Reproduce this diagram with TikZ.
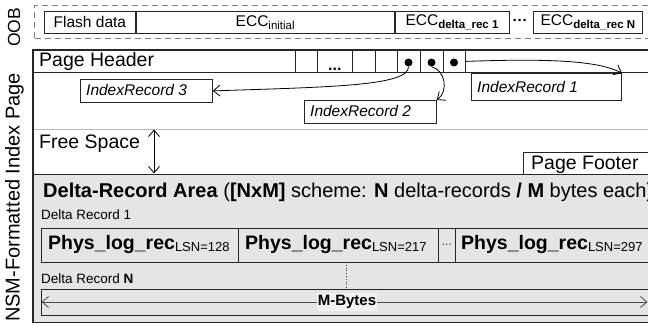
\documentclass[tikz,border=0pt]{standalone}
\usepackage{fontspec}
\setmainfont{Liberation Sans}
\usetikzlibrary{arrows.meta}
\newcommand\fz[1]{\fontsize{#1}{#1}\selectfont}
\newcommand\lowsub[2][-2.5pt]{\raisebox{#1}{#2}}
\begin{document}
\begin{tikzpicture}[x=1pt,y=-1pt,
  boxline/.style={draw=black!85, line width=0.8pt},
  cell/.style={boxline, fill=white, inner sep=0pt, anchor=north west},
  gcell/.style={boxline, fill=gray!20, inner sep=0pt, anchor=north west},
  tip/.style={-{Straight Barb[length=6.5pt,width=11pt]}, line width=0.8pt},
  dbl/.style={{Straight Barb[length=6.5pt,width=11pt]}-{Straight Barb[length=6.5pt,width=11pt]}, line width=0.8pt},
  lbl/.style={inner sep=0pt, anchor=base west},
  blackdot/.style={circle, fill=black, inner sep=0pt, minimum size=8pt},
]
\path[use as bounding box] (0,0) rectangle (648,326);
\clip (0,0) rectangle (648,326);

% side labels
\node[rotate=90, font=\fz{17.5}, inner sep=0pt] (oob) at (14,27.5) {OOB};
\node[rotate=90, font=\fz{20}, inner sep=0pt] (nsm) at (14.5,197.5) {NSM-Formatted Index Page};

% OOB area
\node[draw=gray, dash pattern=on 6pt off 4pt, line width=1pt, anchor=north west,
      minimum width=640pt, minimum height=33pt, inner sep=0pt] (oobbox) at (34,5) {};
\node[cell, minimum width=91pt, minimum height=22pt, font=\fz{15.5}] (flash) at (44,11) {Flash data};
\node[cell, minimum width=258pt, minimum height=22pt, font=\fz{15.5}] (eccinit) at (flash.north east) {ECC\lowsub{\fz{11.5}initial}};
\node[cell, minimum width=114pt, minimum height=22pt, font=\fz{15.5}] (ecc1) at (eccinit.north east) {ECC\lowsub{\fz{11.5}\bfseries delta\_rec 1}};
\node[font=\fz{15}\bfseries, inner sep=0pt] (oobdots) at (520,22) {···};
\node[cell, minimum width=109pt, minimum height=22pt, font=\fz{15.5}] (eccN) at (533,11) {ECC\lowsub{\fz{11.5}\bfseries delta\_rec N}};

% page background
\node[fill=white, anchor=north west, minimum width=657pt, minimum height=272pt, inner sep=0pt] (page) at (33,50) {};

% header row
\node[cell, minimum width=657pt, minimum height=22pt] (header) at (33,50) {};
\node[lbl, font=\fz{19.5}] (htext) at (39,67) {Page Header};
\node[cell, minimum width=22pt, minimum height=22pt] (hc1) at (295,50) {};
\node[cell, minimum width=35pt, minimum height=22pt, text height=19pt, text depth=1pt, font=\fz{16}\bfseries] (hc2) at (317,50) {...};
\node[cell, minimum width=23pt, minimum height=22pt] (hc3) at (352,50) {};
\node[cell, minimum width=22pt, minimum height=22pt] (hc4) at (375,50) {};
\node[cell, minimum width=23pt, minimum height=22pt] (hc5) at (397,50) {};
\node[cell, minimum width=23pt, minimum height=22pt] (hc6) at (420,50) {};
\node[cell, minimum width=22pt, minimum height=22pt] (hc7) at (443,50) {};
\node[blackdot] (d1) at (408.5,62.5) {};
\node[blackdot] (d2) at (431.5,62.5) {};
\node[blackdot] (d3) at (454,62.5) {};

% index records
\node[cell, minimum width=132pt, minimum height=23pt] (ir3) at (80,79) {};
\node[lbl, font=\fz{15.5}\itshape] (ir3t) at (86,96) {IndexRecord 3};
\node[cell, minimum width=132pt, minimum height=23pt] (ir2) at (304,100) {};
\node[lbl, font=\fz{15.5}\itshape] (ir2t) at (310,117) {IndexRecord 2};
\node[cell, minimum width=150pt, minimum height=27pt] (ir1) at (471,73) {};
\node[lbl, font=\fz{15.5}\itshape] (ir1t) at (477,93) {IndexRecord 1};

\draw[tip] (d1.south) .. controls (409,86) and (330,87) .. (ir3.east);
\draw[tip] (d2.south) .. controls (445,70) and (449,91) .. (ir2.north east);
\draw[tip] (hc7.east) .. controls (560,58) and (600,62) .. (ir1.north east);

% free space
\coordinate (sepL) at (33,129);
\coordinate (sepR) at (690,129);
\draw[gray!55, line width=0.8pt] (sepL) -- (sepR);
\node[lbl, font=\fz{19.5}] (fstext) at (39,149) {Free Space};
\coordinate (fsTop) at (154,129.5);
\coordinate (fsBot) at (154,173.5);
\draw[dbl] (fsTop) -- (fsBot);

% footer
\node[cell, minimum width=140pt, minimum height=22pt] (footer) at (523,152) {};
\node[lbl, font=\fz{19.5}] (ftext) at (531,169) {Page Footer};

% delta-record area
\node[fill=gray!20, anchor=north west, minimum width=657pt, minimum height=148pt, inner sep=0pt] (delta) at (33,174) {};
\draw[boxline] (delta.north west) -- (delta.north east);
\node[lbl, font=\fz{20}] (dtitle) at (43,197) {\textbf{Delta-Record Area} (\textbf{[NxM]} scheme: \textbf{N} delta-records \textbf{/} \textbf{M} bytes each)};
\node[lbl, font=\fz{13.5}] (dr1) at (41,219) {Delta Record 1};

\node[gcell, minimum width=197pt, minimum height=34pt] (r1) at (41,228) {};
\node[gcell, minimum width=200pt, minimum height=34pt] (r2) at (238,228) {};
\node[gcell, minimum width=17pt, minimum height=34pt, font=\fz{10}] (rd) at (438,228) {···};
\node[gcell, minimum width=240pt, minimum height=34pt] (r3) at (455,228) {};
\node[lbl] (r1t) at (48,249) {{\fz{19.5}\bfseries Phys\_log\_rec}\lowsub[-2pt]{\fz{13}LSN=128}};
\node[lbl] (r2t) at (245,249) {{\fz{19.5}\bfseries Phys\_log\_rec}\lowsub[-2pt]{\fz{13}LSN=217}};
\node[lbl] (r3t) at (461,249) {{\fz{19.5}\bfseries Phys\_log\_rec}\lowsub[-2pt]{\fz{13}LSN=297}};

\coordinate (dotT) at (346,262);
\coordinate (dotB) at (346,289);
\draw[dotted, line width=0.8pt, black!80] (dotT) -- (dotB);

\node[lbl, font=\fz{13.5}] (drN) at (41,283) {Delta Record \textbf{N}};

\node[gcell, minimum width=650pt, minimum height=26pt] (mbox) at (41,289) {};
\coordinate (mL) at (41.5,302);
\coordinate (mR) at (647.5,302);
\draw[dbl, draw=black!70] (mL) -- (mR);
\node[fill=gray!12, font=\fz{15}\bfseries, inner xsep=1pt, inner ysep=2pt] (mtext) at (347,302) {M-Bytes};

% outer frame
\draw[draw=black!85, line width=1.2pt] (page.north west) rectangle (page.south east);
\end{tikzpicture}
\end{document}
